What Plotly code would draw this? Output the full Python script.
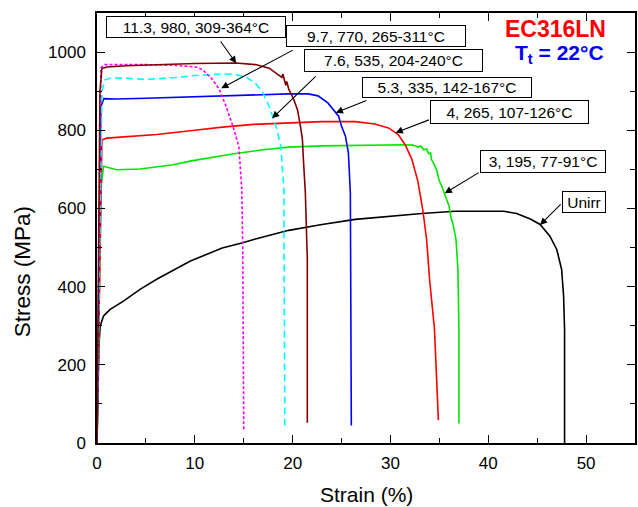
import plotly.graph_objects as go

# ---- data (strain %, stress MPa) ----
unirr_x = [0, 0.2, 0.33, 0.67, 1.35, 2.7, 4.4, 6.1, 9.5, 12.8, 14.9, 16.2, 19.6, 23.0, 26.4, 29.8,
           33.2, 36.6, 40.0, 41.6, 42.9, 44.3, 45.3, 46.3, 47.0, 47.5, 47.7, 47.8, 47.8]
unirr_y = [0, 250, 300, 325, 342, 363, 393, 419, 465, 499, 512, 522, 544, 559, 572, 580,
           587, 593, 594, 593, 587, 573, 559, 529, 495, 444, 376, 291, 0]

d3_x = [0, 0.4, 0.67, 2.0, 4.4, 7.8, 9.5, 11.0, 14.0, 17.0, 19.6, 23.0, 27.0, 31.5, 32.3, 32.8,
        33.1, 33.4, 33.7, 33.9, 34.1, 34.2, 34.4, 34.7, 34.8, 35.0, 35.2, 35.5, 35.8, 36.0, 36.2,
        36.4, 36.7, 36.9, 37.0, 37.0]
d3_y = [0, 650, 708, 699, 701, 712, 721, 727, 740, 750, 757, 760, 762, 763, 762, 757,
        760, 750, 752, 740, 742, 725, 716, 700, 690, 670, 660, 640, 620, 606, 575,
        560, 521, 444, 291, 50]

d4_x = [0, 0.5, 1.0, 3.0, 6.1, 10.0, 12.8, 16.0, 19.6, 23.0, 26.4, 28.4, 29.8, 30.8, 31.5, 32.2,
        32.8, 33.3, 33.7, 34.0, 34.5, 34.9]
d4_y = [0, 775, 780, 783, 789, 800, 808, 815, 819, 822, 822, 816, 806, 789, 763, 725,
        670, 597, 520, 419, 291, 58]

d53_x = [0, 0.4, 0.7, 2.0, 5.0, 10.0, 15.0, 19.6, 21.6, 22.6, 23.6, 24.3, 24.7, 25.0, 25.4, 25.7,
         25.9, 26.0]
d53_y = [0, 860, 881, 880, 882, 886, 890, 893, 893, 888, 870, 850, 836, 810, 785, 742,
         640, 45]

d76_x = [0, 0.5, 0.8, 1.5, 3.0, 5.0, 8.0, 10.0, 12.8, 14.0, 15.2, 16.2, 16.9, 17.6, 18.3, 18.8,
         19.1, 19.2]
d76_y = [0, 900, 929, 934, 933, 930, 935, 940, 944, 943, 937, 920, 899, 861, 810, 759,
         650, 44]

d97_x = [0, 0.4, 0.8, 2.0, 5.0, 8.0, 10.1, 10.8, 11.8, 12.5, 13.2, 13.9, 14.5, 14.8, 14.9, 15.0]
d97_y = [0, 960, 968, 968, 968, 966, 962, 955, 930, 905, 861, 810, 759, 650, 500, 31]

d113_x = [0, 0.3, 0.5, 1.0, 3.0, 6.0, 10.0, 14.2, 16.2, 17.6, 18.6, 18.9, 19.0, 19.3, 19.4, 19.6,
          20.1, 20.5, 20.8, 21.0, 21.1, 21.3, 21.5, 21.5]
d113_y = [0, 900, 958, 962, 965, 968, 971, 972, 968, 959, 942, 935, 944, 915, 925, 905,
          880, 852, 810, 776, 725, 640, 470, 52]

labels = ["11.3, 980, 309-364°C", "9.7, 770, 265-311°C", "7.6, 535, 204-240°C",
          "5.3, 335, 142-167°C", "4, 265, 107-126°C", "3, 195, 77-91°C", "Unirr"]

x_ticks = [0, 10, 20, 30, 40, 50]
y_ticks = [0, 200, 400, 600, 800, 1000]

FONT = "Liberation Sans, Arial, Helvetica, sans-serif"

fig = go.Figure()

series = [
    (unirr_x, unirr_y, "black", "solid"),
    (d3_x, d3_y, "#00e600", "solid"),
    (d4_x, d4_y, "#ff0000", "solid"),
    (d53_x, d53_y, "#0000ff", "solid"),
    (d76_x, d76_y, "#00ffff", "7px,4px"),
    (d97_x, d97_y, "#ff00ff", "3px,2px"),
    (d113_x, d113_y, "#800000", "solid"),
]
for xs, ys, c, d in series:
    fig.add_trace(go.Scatter(x=xs, y=ys, mode="lines",
                             line=dict(color=c, width=1.6, dash=d),
                             showlegend=False, hoverinfo="skip"))

# annotation layout: (box centre x, box centre y, box w, box h, head x, head y, tail x, tail y)
ann_layout = [
    (10.08, 1064.2, 178, 20, 14.23, 971.3, 12.53, 1030.9),
    (28.52, 1041.2, 178, 20, 12.70, 907.4, 20.17, 1007.1),
    (30.30, 978.5, 177, 21, 17.90, 830.6, 22.51, 941.4),
    (35.75, 909.4, 168, 19, 24.41, 845.0, 27.70, 877.4),
    (42.17, 846.7, 157, 22, 30.53, 793.8, 34.09, 828.1),
    (45.60, 721.4, 124, 21, 35.55, 638.8, 39.18, 694.0),
    (49.81, 616.5, 42, 20, 45.29, 557.7, 47.55, 614.0),
]

annotations = []
for txt, (bx, by, bw, bh, hx, hy, tx, ty) in zip(labels, ann_layout):
    annotations.append(dict(x=hx, y=hy, xref="x", yref="y", ax=tx, ay=ty,
                            axref="x", ayref="y", text="", showarrow=True,
                            arrowhead=2, arrowsize=1.3, arrowwidth=1.1,
                            arrowcolor="black", standoff=0))
    annotations.append(dict(x=bx, y=by, xref="x", yref="y", text=txt, showarrow=False,
                            xanchor="center", yanchor="middle",
                            bordercolor="black", borderwidth=1, borderpad=0,
                            bgcolor="white", width=bw, height=bh,
                            font=dict(family=FONT, size=15.5, color="black")))

annotations.append(dict(x=(557 - 97) / 540, y=(443 - 29) / 430, xref="paper", yref="paper",
                        text="<b>EC316LN</b>", showarrow=False,
                        xanchor="center", yanchor="middle",
                        font=dict(family=FONT, size=23, color="#ff0000")))
annotations.append(dict(x=(561 - 97) / 540, y=(443 - 54) / 430, xref="paper", yref="paper",
                        text="<b>T<sub>t</sub> = 22°C</b>", showarrow=False,
                        xanchor="center", yanchor="middle",
                        font=dict(family=FONT, size=21, color="#0000ff")))
annotations.append(dict(x=(367 - 97) / 540, y=(443 - 494) / 430, xref="paper", yref="paper",
                        text="Strain (%)", showarrow=False,
                        xanchor="center", yanchor="middle",
                        font=dict(family=FONT, size=21, color="black")))
annotations.append(dict(x=(22 - 97) / 540, y=(443 - 272) / 430, xref="paper", yref="paper",
                        text="Stress (MPa)", showarrow=False, textangle=-90,
                        xanchor="center", yanchor="middle",
                        font=dict(family=FONT, size=22.5, color="black")))

axis_common = dict(showline=True, linecolor="black", linewidth=1.5, mirror="allticks",
                   ticks="inside", ticklen=8, tickwidth=1.3, tickcolor="black",
                   showgrid=False, zeroline=False,
                   tickfont=dict(family=FONT, size=17, color="black"))

fig.update_layout(
    width=638, height=507,
    margin=dict(l=97, r=1, t=13, b=64),
    paper_bgcolor="white", plot_bgcolor="white",
    xaxis=dict(range=[0, 55], tickvals=x_ticks, ticktext=[str(v) for v in x_ticks],
               minor=dict(dtick=5, ticks="inside", ticklen=5, tickwidth=1.2, tickcolor="black"),
               ticklabelstandoff=4, **axis_common),
    yaxis=dict(range=[0, 1100], tickvals=y_ticks, ticktext=[str(v) for v in y_ticks],
               minor=dict(dtick=100, ticks="inside", ticklen=5, tickwidth=1.2, tickcolor="black"),
               ticklabelstandoff=6, **axis_common),
    annotations=annotations,
)

fig.write_html("out.html", config={"displayModeBar": False},
               post_script="document.body.style.margin='0';document.body.style.overflow='hidden';")
